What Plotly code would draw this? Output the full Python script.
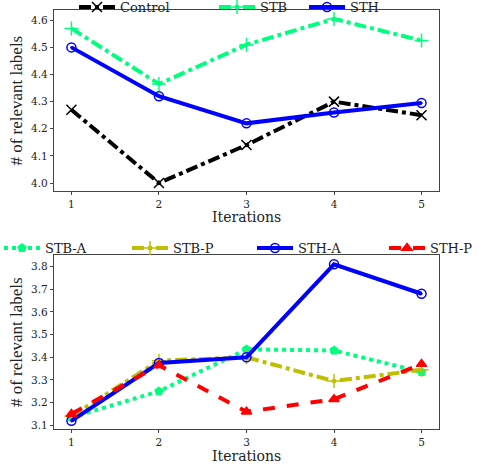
import plotly.graph_objects as go

iterations = [1, 2, 3, 4, 5]

# top panel
control = [4.27, 4.00, 4.14, 4.30, 4.25]
stb = [4.57, 4.365, 4.51, 4.605, 4.525]
sth = [4.50, 4.32, 4.22, 4.26, 4.295]

# bottom panel
stb_a = [3.135, 3.25, 3.435, 3.43, 3.335]
stb_p = [3.14, 3.385, 3.40, 3.295, 3.345]
sth_a = [3.12, 3.375, 3.40, 3.81, 3.68]
sth_p = [3.15, 3.365, 3.16, 3.215, 3.37]

serif = "Liberation Serif"
dserif = "DejaVu Serif"
fig = go.Figure()


def add(name, y, color, dash, symbol, xa, ya, legend, msize=9, width=4):
    fig.add_trace(go.Scatter(
        x=iterations, y=y, name=name, mode="lines+markers",
        line=dict(color=color, width=width, dash=dash),
        marker=dict(symbol=symbol, size=msize, color=color,
                    line=dict(color=color, width=1.5)),
        xaxis=xa, yaxis=ya, legend=legend))


add("Control", control, "black", "dashdot", "x-thin", "x", "y", "legend", 10)
add("STB", stb, "#00FF7F", "dashdot", "cross-thin", "x", "y", "legend2", 10)
add("STH", sth, "#0000FF", "solid", "circle-open-dot", "x", "y", "legend3")

add("STB-A", stb_a, "#00FF7F", "dot", "pentagon", "x2", "y2", "legend4", 8)
add("STB-P", stb_p, "#BFBF00", "dashdot", "cross-thin", "x2", "y2", "legend5", 10)
add("STH-A", sth_a, "#0000FF", "solid", "circle-open-dot", "x2", "y2", "legend6")
add("STH-P", sth_p, "#FF0000", "dash", "triangle-up", "x2", "y2", "legend7", 9)

axis = dict(showline=True, linecolor="#444", linewidth=1, mirror=True,
            ticks="outside", ticklen=3, tickcolor="#444", showgrid=False,
            zeroline=False, automargin=False,
            tickfont=dict(family=dserif, size=10.5, color="#222"))
yaxis_title = dict(text="# of relevant labels", font=dict(family=serif, size=17, color="#222"), standoff=4)
legend_font = dict(family=dserif, size=13, color="#222")


def leg(x, y):
    return dict(orientation="h", x=x / 490, y=1 - y / 464, xanchor="left", yanchor="middle",
                bgcolor="rgba(0,0,0,0)", font=legend_font, itemwidth=36)


def xtitle(y):
    return dict(text="Iterations", x=0.503, y=1 - y / 464, xref="paper", yref="paper",
                xanchor="center", yanchor="middle", showarrow=False,
                font=dict(family=dserif, size=14, color="#222"))


fig.update_layout(
    width=490, height=464,
    margin=dict(l=0, r=0, t=0, b=0, autoexpand=False),
    plot_bgcolor="white", paper_bgcolor="white",
    xaxis=dict(axis, domain=[0.110, 0.896], range=[0.8, 5.2], tickvals=iterations, anchor="y"),
    yaxis=dict(axis, domain=[0.588, 0.978], range=[3.97, 4.637], dtick=0.1,
               tickformat=".1f", anchor="x", title=yaxis_title),
    xaxis2=dict(axis, domain=[0.110, 0.896], range=[0.8, 5.2], tickvals=iterations, anchor="y2"),
    yaxis2=dict(axis, domain=[0.075, 0.45], range=[3.083, 3.85], dtick=0.1,
                tickformat=".1f", anchor="x2", title=yaxis_title),
    annotations=[xtitle(217), xtitle(456)],
    legend=leg(74, 7),
    legend2=leg(214, 7),
    legend3=leg(304, 7),
    legend4=leg(-1, 248),
    legend5=leg(127, 248),
    legend6=leg(252, 248),
    legend7=leg(384, 248),
    showlegend=True,
)

fig.write_html("out.html", config={"displayModeBar": False},
               post_script="document.body.style.margin='0';")
